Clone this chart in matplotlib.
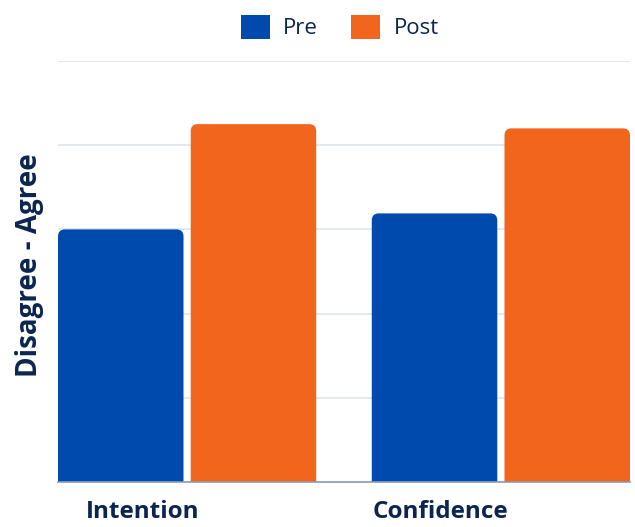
import matplotlib
matplotlib.use("Agg")
import matplotlib.pyplot as plt
from matplotlib.patches import FancyBboxPatch, Patch

categories = ["Intention", "Confidence"]
series = ["Pre", "Post"]
pre_values = [3.0, 3.19]
post_values = [4.25, 4.2]

NAVY = "#0b2551"
COLORS = {"Pre": "#004aad", "Post": "#f1651d"}

plt.rcParams["font.family"] = ["Open Sans", "DejaVu Sans"]

fig = plt.figure(figsize=(6.35, 5.27), dpi=100)
ax = fig.add_axes([58 / 635, 45 / 527, 572 / 635, 421 / 527])

width = 0.40
offset = 0.2115
x = list(range(len(categories)))

# px per data unit, used for round corners
px_x = 314.5
px_y = 84.33
aspect = px_x / px_y

for name, vals, sign in [("Pre", pre_values, -1), ("Post", post_values, 1)]:
    bars = ax.bar([i + sign * offset for i in x], vals, width=width,
                  color=COLORS[name], label=name)
    for b in bars:
        b.set_visible(False)
        r = 7 / px_x
        patch = FancyBboxPatch((b.get_x(), -0.3), b.get_width(), b.get_height() + 0.3,
                               boxstyle=f"round,pad=0,rounding_size={r}",
                               mutation_aspect=aspect, facecolor=COLORS[name],
                               edgecolor="none", zorder=3)
        ax.add_patch(patch)

ax.set_xlim(-0.4115, 1.4115)
ax.set_ylim(0, 5)
ax.set_yticks([0, 1, 2, 3, 4, 5])
ax.set_yticklabels([])
ax.tick_params(axis="y", length=0)
ax.grid(axis="y", color="#dde1e8", linewidth=1.1, zorder=0)
ax.set_axisbelow(True)
for s in ["top", "right", "left"]:
    ax.spines[s].set_visible(False)
ax.spines["bottom"].set_color("#8d9bb3")
ax.spines["bottom"].set_linewidth(1.2)
ax.spines["bottom"].set_zorder(4)

ax.set_xticks([-0.143, 0.808])
ax.set_xticklabels(categories, fontsize=17.5, fontweight="bold", color=NAVY)
ax.tick_params(axis="x", length=0, pad=13)

ax.set_ylabel("Disagree - Agree", fontsize=20, fontweight="bold", color=NAVY)
ax.yaxis.set_label_coords(-0.024, 0.515)

handles = [Patch(facecolor=COLORS[s], edgecolor="none") for s in series]
fig.legend(handles, series, loc="center", bbox_to_anchor=(340 / 635, 1 - 27 / 527),
           ncol=2, frameon=False, fontsize=16, handlelength=1.3, handleheight=1.3,
           handletextpad=0.6, columnspacing=1.5, labelcolor=NAVY)

fig.savefig("out.png", dpi=100)
